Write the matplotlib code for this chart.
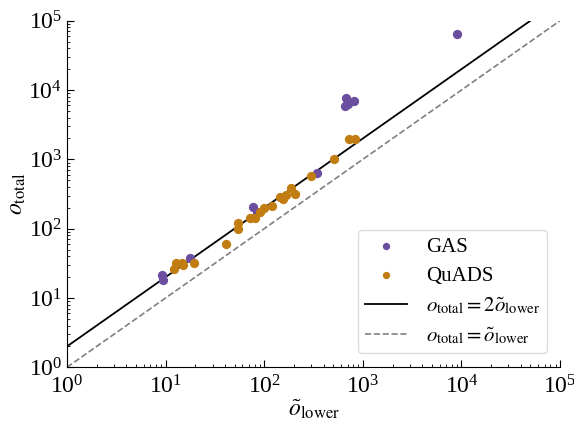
import numpy as np
import matplotlib
matplotlib.use("Agg")
import matplotlib.pyplot as plt

plt.rcParams["font.family"] = ["Liberation Serif", "DejaVu Serif"]
plt.rcParams["mathtext.fontset"] = "stix"

# GAS points (o_lower estimate, o_total)
gas_lower = [9.1, 9.5, 17.7, 77.6, 84, 346, 671, 814, 660, 706, 9100]
gas_total = [21.5, 18.2, 37.4, 203, 176, 645, 7600, 7030, 5960, 6240, 64000]

# QuADS points
quads_lower = [12.3, 12.7, 14.6, 14.9, 19.6, 40.7, 53.8, 54.6, 71.8, 80.7,
               90, 100, 119, 145, 154, 165, 188, 207, 298, 515, 724, 828]
quads_total = [26.5, 31.7, 32.3, 29.9, 32.3, 59.6, 120, 99, 144, 141,
               176, 197, 215, 284, 266, 306, 381, 316, 576, 1000, 1950, 1950]

purple = "#6c4ea0"
orange = "#c17d11"

fig = plt.figure(figsize=(5.74, 4.21), dpi=100)
ax = fig.add_axes([0.1167, 0.1276, 0.859, 0.8232])

ax.scatter(gas_lower, gas_total, s=32, color=purple, label="GAS", zorder=3)
ax.scatter(quads_lower, quads_total, s=32, color=orange, label="QuADS", zorder=3)

xs = np.logspace(0, 5, 200)
ax.plot(xs, 2 * xs, color="black", lw=1.3,
        label=r"$o_{\rm total} = 2\tilde{o}_{\rm lower}$")
ax.plot(xs, xs, color="gray", lw=1.2, ls="--",
        label=r"$o_{\rm total} = \tilde{o}_{\rm lower}$")

ax.set_xscale("log")
ax.set_yscale("log")
ax.set_xlim(1, 1e5)
ax.set_ylim(1, 1e5)

ax.spines["top"].set_visible(False)
ax.spines["right"].set_visible(False)
ax.tick_params(which="both", direction="in", labelsize=17)
ax.tick_params(which="major", length=5)
ax.tick_params(which="minor", length=2.5)
ax.tick_params(axis="x", which="major", pad=6)

ax.set_xlabel(r"$\tilde{o}_{\rm lower}$", fontsize=17, labelpad=-1)
ax.set_ylabel(r"$o_{\rm total}$", fontsize=17, labelpad=0)

ax.legend(loc="lower right", fontsize=15, frameon=True, framealpha=1,
          edgecolor="#dddddd", markerscale=0.75, borderpad=0.35,
          labelspacing=0.45, handletextpad=0.9,
          bbox_to_anchor=(0.995, 0.01))

fig.savefig("out.png", dpi=100)
